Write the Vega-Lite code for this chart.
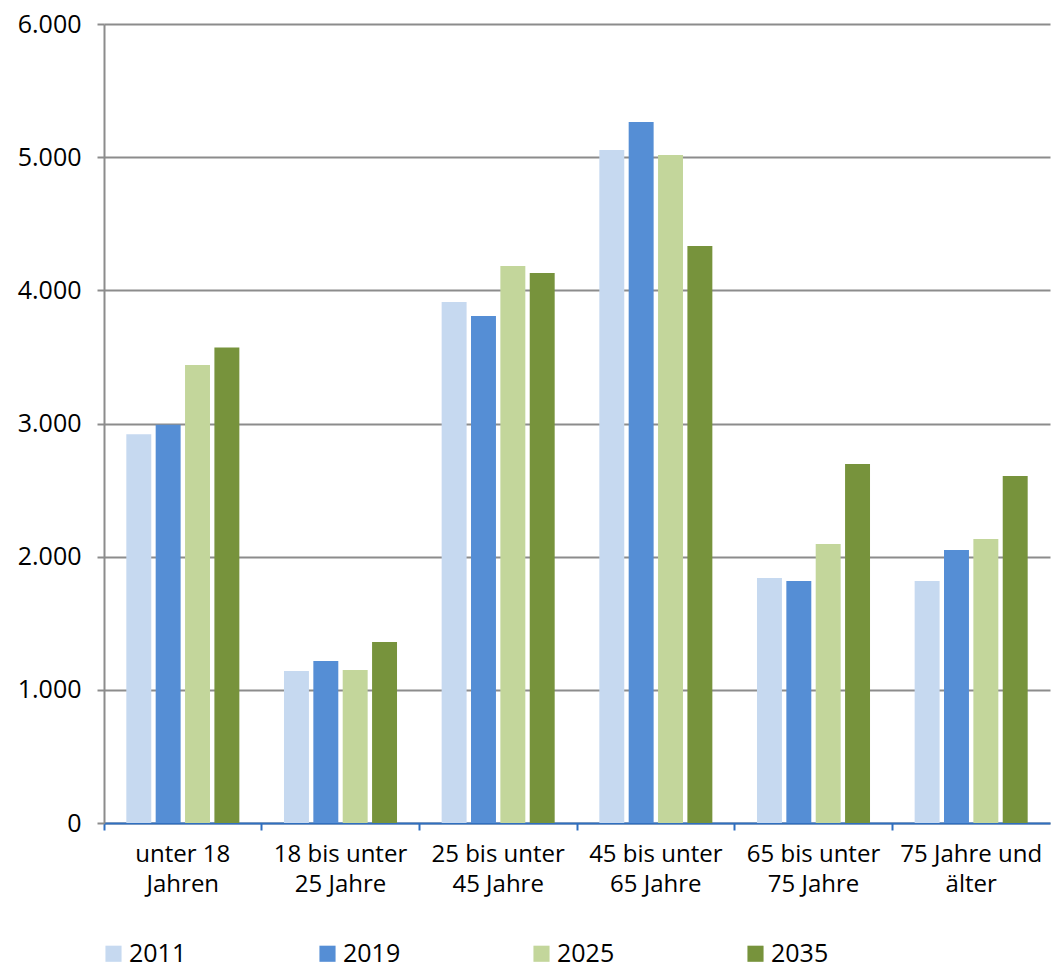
{
  "$schema": "https://vega.github.io/schema/vega-lite/v6.json",
  "autosize": {"type": "none"},
  "width": 946,
  "height": 799,
  "padding": {"left": 104, "top": 24, "right": 1, "bottom": 141},
  "background": "white",
  "data": {
    "values": [
      {"group": "unter 18|Jahren", "year": "2011", "value": 2920},
      {"group": "unter 18|Jahren", "year": "2019", "value": 2990},
      {"group": "unter 18|Jahren", "year": "2025", "value": 3440},
      {"group": "unter 18|Jahren", "year": "2035", "value": 3570},
      {"group": "18 bis unter|25 Jahre", "year": "2011", "value": 1141},
      {"group": "18 bis unter|25 Jahre", "year": "2019", "value": 1216},
      {"group": "18 bis unter|25 Jahre", "year": "2025", "value": 1149},
      {"group": "18 bis unter|25 Jahre", "year": "2035", "value": 1359},
      {"group": "25 bis unter|45 Jahre", "year": "2011", "value": 3912},
      {"group": "25 bis unter|45 Jahre", "year": "2019", "value": 3807},
      {"group": "25 bis unter|45 Jahre", "year": "2025", "value": 4183},
      {"group": "25 bis unter|45 Jahre", "year": "2035", "value": 4130},
      {"group": "45 bis unter|65 Jahre", "year": "2011", "value": 5054},
      {"group": "45 bis unter|65 Jahre", "year": "2019", "value": 5264},
      {"group": "45 bis unter|65 Jahre", "year": "2025", "value": 5016},
      {"group": "45 bis unter|65 Jahre", "year": "2035", "value": 4333},
      {"group": "65 bis unter|75 Jahre", "year": "2011", "value": 1840},
      {"group": "65 bis unter|75 Jahre", "year": "2019", "value": 1817},
      {"group": "65 bis unter|75 Jahre", "year": "2025", "value": 2095},
      {"group": "65 bis unter|75 Jahre", "year": "2035", "value": 2696},
      {"group": "75 Jahre und|älter", "year": "2011", "value": 1817},
      {"group": "75 Jahre und|älter", "year": "2019", "value": 2050},
      {"group": "75 Jahre und|älter", "year": "2025", "value": 2133},
      {"group": "75 Jahre und|älter", "year": "2035", "value": 2606}
    ]
  },
  "mark": {"type": "bar"},
  "encoding": {
    "x": {
      "field": "group",
      "type": "nominal",
      "sort": null,
      "scale": {"paddingInner": 0, "paddingOuter": 0},
      "axis": {
        "title": null,
        "labelAngle": 0,
        "labelExpr": "split(datum.label, '|')",
        "labelFont": "Open Sans",
        "labelFontSize": 24,
        "labelColor": "#000000",
        "labelLineHeight": 30,
        "labelPadding": 12,
        "labelLimit": 300,
        "bandPosition": 0,
        "domainColor": "#2f6fc0",
        "domainWidth": 2,
        "tickColor": "#2f6fc0",
        "tickWidth": 2,
        "tickSize": 7,
        "grid": false
      }
    },
    "xOffset": {
      "field": "year",
      "type": "nominal",
      "scale": {"paddingInner": 0.15, "paddingOuter": 0.76}
    },
    "y": {
      "field": "value",
      "type": "quantitative",
      "scale": {"domain": [0, 6000], "nice": false},
      "axis": {
        "title": null,
        "values": [0, 1000, 2000, 3000, 4000, 5000, 6000],
        "labelExpr": "replace(format(datum.value, ','), ',', '.')",
        "labelFont": "Open Sans",
        "labelFontSize": 25,
        "labelColor": "#000000",
        "labelPadding": 16,
        "tickColor": "#8c8c8c",
        "tickWidth": 2,
        "tickSize": 7,
        "domainColor": "#8c8c8c",
        "domainWidth": 2,
        "gridColor": "#8c8c8c",
        "gridWidth": 2,
        "grid": true
      }
    },
    "color": {
      "field": "year",
      "type": "nominal",
      "scale": {
        "domain": ["2011", "2019", "2025", "2035"],
        "range": ["#c6d9f0", "#558ed5", "#c3d69b", "#77933c"]
      },
      "legend": {
        "title": null,
        "orient": "none",
        "legendX": -3,
        "legendY": 917,
        "direction": "horizontal",
        "columns": 4,
        "symbolType": "square",
        "symbolSize": 260,
        "symbolStrokeWidth": 0,
        "labelFont": "Open Sans",
        "labelFontSize": 25,
        "labelColor": "#000000",
        "labelOffset": 3,
        "labelLimit": 200,
        "columnPadding": 128
      }
    }
  },
  "config": {"view": {"stroke": null}}
}
